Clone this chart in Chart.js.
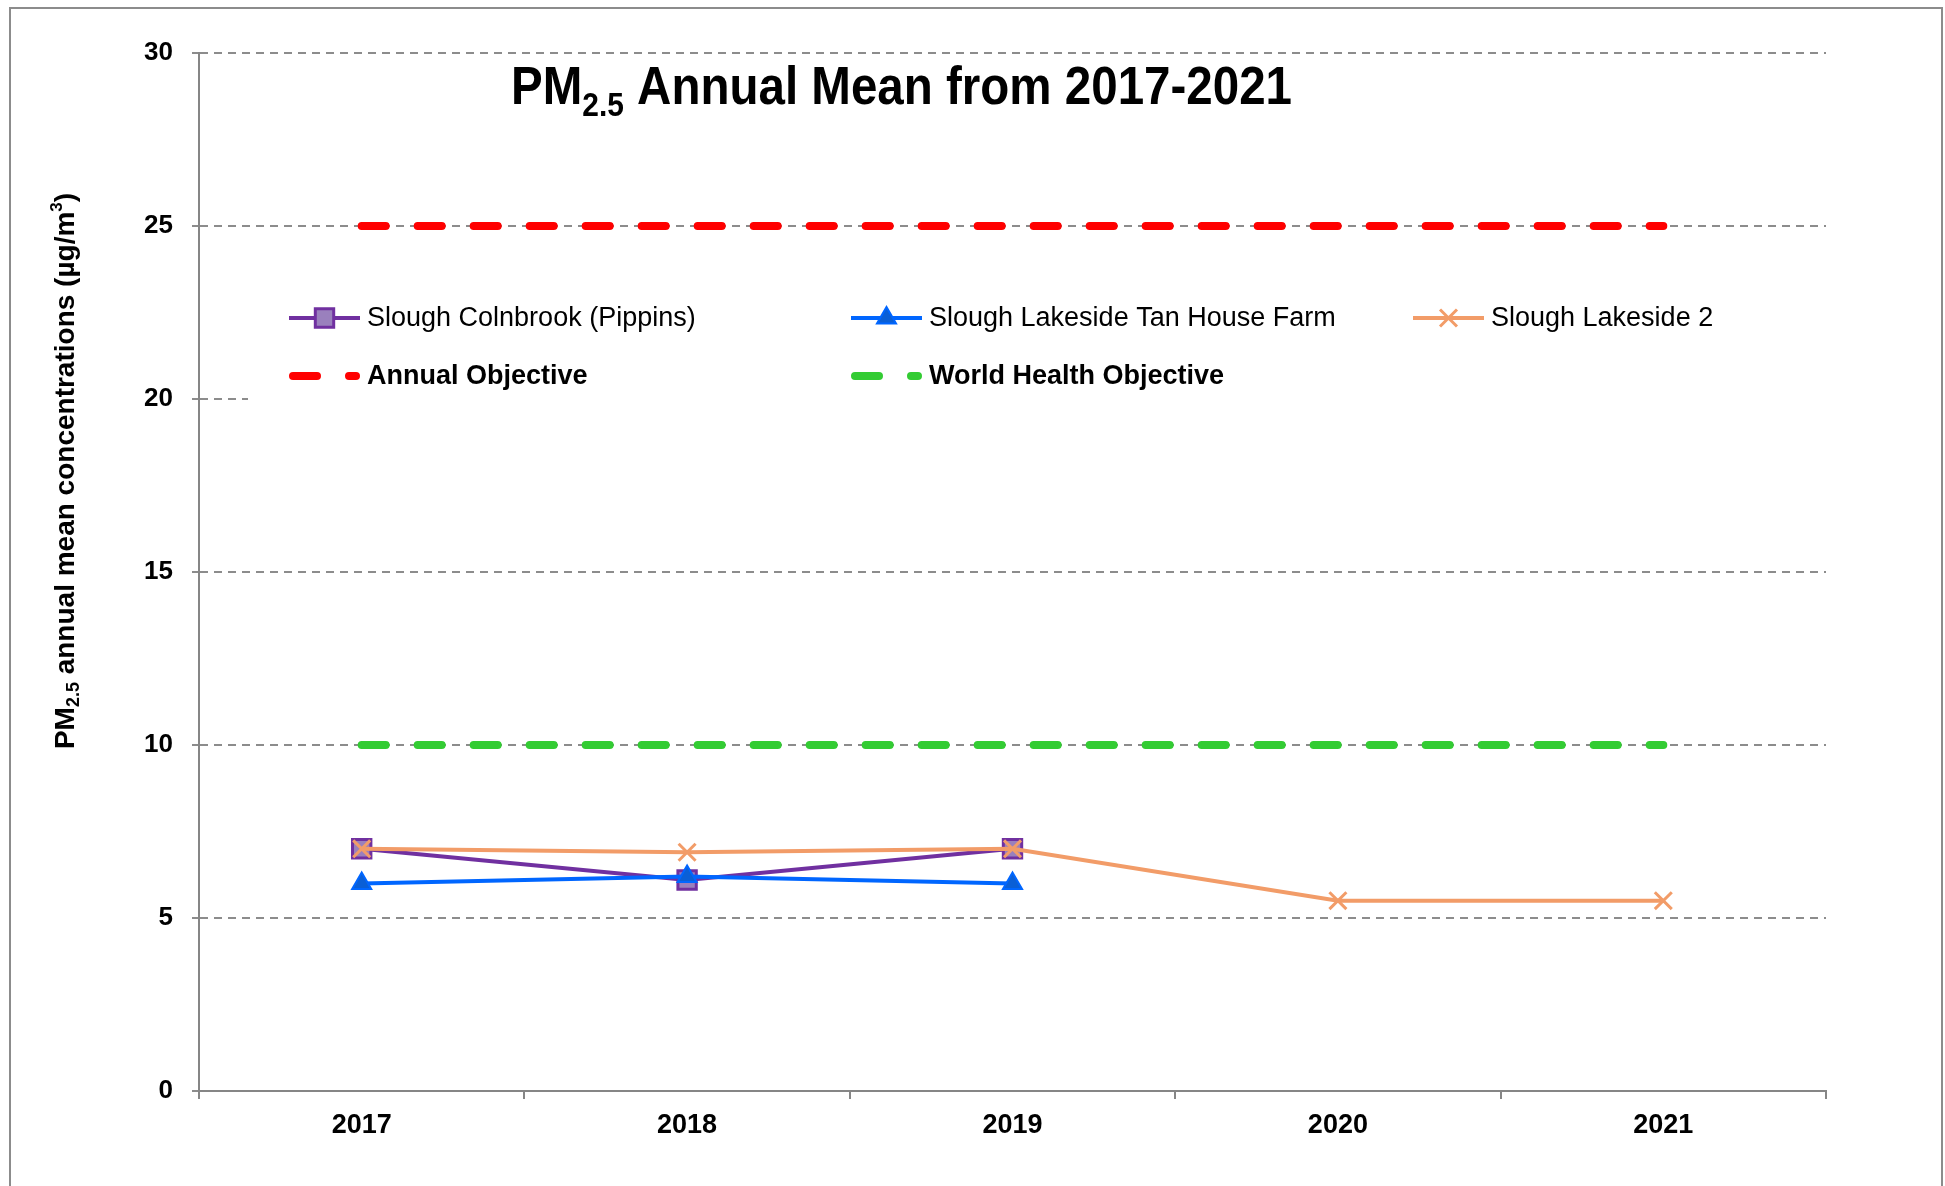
<!DOCTYPE html>
<html>
<head>
<meta charset="utf-8">
<title>PM2.5 Annual Mean</title>
<script src="https://cdn.jsdelivr.net/npm/chart.js@4.4.0/dist/chart.umd.min.js"></script>
<style>
html, body { margin: 0; padding: 0; background: #fff; }
#wrap { width: 1945px; height: 1186px; position: relative; }
</style>
</head>
<body>
<div id="wrap"><canvas id="pmChart"></canvas></div>
<script>
const years = ["2017", "2018", "2019", "2020", "2021"];
const colnbrook = [7.0, 6.1, 7.0, null, null];
const tanHouseFarm = [6.0, 6.2, 6.0, null, null];
const lakeside2 = [7.0, 6.9, 7.0, 5.5, 5.5];
const annualObjective = [25, 25, 25, 25, 25];
const whoObjective = [10, 10, 10, 10, 10];
const yTicks = [0, 5, 10, 15, 20, 25, 30];

const FONT = "'Liberation Sans', Arial, sans-serif";
const GRID = "#8c8c8c";
const AXIS = "#868686";

// legend sits inside the plot on a white box, 3 columns x 2 rows
const legendLayout = {
    cols: [289, 851, 1413],
    rows: [318, 376],
    sample: 71,
    box: { x: 248, y: 262, w: 1585, h: 148 }
};

const drawTitle = (ctx) => {
    ctx.save();
    ctx.fillStyle = "#000";
    ctx.textBaseline = "alphabetic";
    ctx.translate(511, 104);
    ctx.scale(0.88, 1);
    let x = 0;
    ctx.font = "bold 54px " + FONT;
    ctx.fillText("PM", x, 0);
    x += ctx.measureText("PM").width;
    ctx.font = "bold 34px " + FONT;
    ctx.fillText("2.5", x, 12);
    x += ctx.measureText("2.5").width;
    ctx.font = "bold 54px " + FONT;
    ctx.fillText(" Annual Mean from 2017-2021", x, 0);
    ctx.restore();
};

const drawYLabel = (ctx) => {
    const parts = [
        { t: "PM", f: "bold 28px ", dy: 0 },
        { t: "2.5", f: "bold 18px ", dy: 8 },
        { t: " annual mean concentrations (\u00b5g/m", f: "bold 28px ", dy: 0 },
        { t: "3", f: "bold 17px ", dy: -9 },
        { t: ")", f: "bold 28px ", dy: 0 }
    ];
    ctx.save();
    ctx.fillStyle = "#000";
    ctx.textBaseline = "middle";
    let total = 0;
    for (const p of parts) {
        ctx.font = p.f + FONT;
        p.w = ctx.measureText(p.t).width;
        total += p.w;
    }
    ctx.translate(66, 471);
    ctx.rotate(-Math.PI / 2);
    let x = -total / 2;
    for (const p of parts) {
        ctx.font = p.f + FONT;
        ctx.fillText(p.t, x, p.dy);
        x += p.w;
    }
    ctx.restore();
};

const decorations = {
    id: "decorations",
    beforeDatasetsDraw(chart) {
        const ctx = chart.ctx;
        const b = legendLayout.box;
        ctx.save();
        ctx.fillStyle = "#fff";
        ctx.fillRect(b.x, b.y, b.w, b.h);
        ctx.restore();
    },
    afterDraw(chart) {
        const ctx = chart.ctx;
        const L = legendLayout;
        chart.data.datasets.forEach((ds, i) => {
            const x = L.cols[i % 3];
            const y = L.rows[Math.floor(i / 3)];
            ctx.save();
            ctx.strokeStyle = ds.borderColor;
            ctx.lineWidth = ds.borderWidth;
            ctx.lineCap = ds.borderCapStyle || "butt";
            ctx.setLineDash(ds.borderDash || []);
            const inset = ds.borderCapStyle === "round" ? ds.borderWidth / 2 : 0;
            ctx.beginPath();
            ctx.moveTo(x + inset, y);
            ctx.lineTo(x + L.sample - inset, y);
            ctx.stroke();
            ctx.setLineDash([]);
            if (ds.pointRadius > 0) {
                ctx.fillStyle = ds.pointBackgroundColor;
                ctx.strokeStyle = ds.pointBorderColor;
                ctx.lineWidth = ds.pointBorderWidth;
                Chart.helpers.drawPoint(ctx, {
                    pointStyle: ds.pointStyle,
                    radius: ds.pointRadius,
                    borderWidth: ds.pointBorderWidth,
                    rotation: 0
                }, x + L.sample / 2, y);
            }
            ctx.fillStyle = "#000";
            ctx.textBaseline = "middle";
            ctx.font = (ds.borderDash ? "bold " : "") + "27px " + FONT;
            ctx.fillText(ds.label, x + L.sample + 7, y + 1);
            ctx.restore();
        });

        drawTitle(ctx);
        drawYLabel(ctx);

        // outer frame
        ctx.save();
        ctx.strokeStyle = GRID;
        ctx.lineWidth = 2;
        ctx.strokeRect(10, 8, 1932, 1200);
        ctx.restore();
    }
};

const canvas = document.getElementById("pmChart");
const chart = new Chart(canvas, {
    type: "line",
    data: {
        labels: years,
        datasets: [
            {
                label: "Slough Colnbrook (Pippins)",
                data: colnbrook,
                borderColor: "#7030a0",
                borderWidth: 4,
                pointStyle: "rect",
                pointRadius: 13,
                pointBackgroundColor: "#9a80bd",
                pointBorderColor: "#7030a0",
                pointBorderWidth: 3,
                order: 3
            },
            {
                label: "Slough Lakeside Tan House Farm",
                data: tanHouseFarm,
                borderColor: "#0066ff",
                borderWidth: 4,
                pointStyle: "triangle",
                pointRadius: 11,
                pointBackgroundColor: "#0a5fd6",
                pointBorderColor: "#0066ff",
                pointBorderWidth: 2,
                order: 2
            },
            {
                label: "Slough Lakeside 2",
                data: lakeside2,
                borderColor: "#f29c68",
                borderWidth: 4,
                pointStyle: "crossRot",
                pointRadius: 12,
                pointBackgroundColor: "#f29c68",
                pointBorderColor: "#f29c68",
                pointBorderWidth: 3,
                order: 1
            },
            {
                label: "Annual Objective",
                data: annualObjective,
                borderColor: "#ff0000",
                borderWidth: 8,
                borderDash: [24, 32],
                borderCapStyle: "round",
                pointRadius: 0,
                order: 4
            },
            {
                label: "World Health Objective",
                data: whoObjective,
                borderColor: "#33cc33",
                borderWidth: 8,
                borderDash: [24, 32],
                borderCapStyle: "round",
                pointRadius: 0,
                order: 5
            }
        ]
    },
    options: {
        responsive: true,
        maintainAspectRatio: false,
        animation: false,
        events: [],
        layout: {
            padding: { top: 53, right: 119, left: 0, bottom: 0 }
        },
        plugins: {
            legend: { display: false },
            title: { display: false },
            tooltip: { enabled: false }
        },
        scales: {
            x: {
                offset: true,
                afterFit: (s) => { s.height = 95; },
                grid: {
                    offset: true,
                    drawOnChartArea: false,
                    drawTicks: true,
                    tickLength: 8,
                    color: AXIS,
                    lineWidth: 2
                },
                border: { display: true, color: AXIS, width: 2 },
                ticks: {
                    color: "#000",
                    padding: 10,
                    font: { family: FONT, size: 27, weight: "bold" }
                }
            },
            y: {
                min: yTicks[0],
                max: yTicks[yTicks.length - 1],
                afterFit: (s) => { s.width = 199; },
                grid: {
                    color: GRID,
                    lineWidth: 2,
                    tickLength: 7,
                    tickColor: GRID
                },
                border: { display: true, color: AXIS, width: 2, dash: [8, 6] },
                ticks: {
                    stepSize: yTicks[1] - yTicks[0],
                    color: "#000",
                    padding: 19,
                    font: { family: FONT, size: 26, weight: "bold" }
                }
            }
        }
    },
    plugins: [decorations]
});
</script>
</body>
</html>
